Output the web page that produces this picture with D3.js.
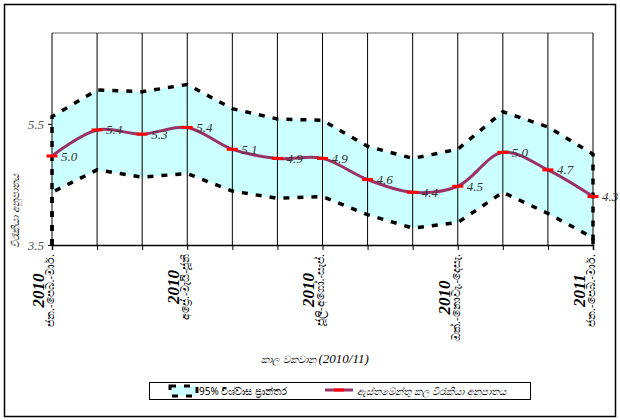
<!DOCTYPE html>
<html>
<head>
<meta charset="utf-8">
<script src="https://cdn.jsdelivr.net/npm/d3@7"></script>
<style>
  body { margin: 0; background: #fff; }
  .serif { font-family: "Liberation Serif", "DejaVu Serif", serif; }
  .sans { font-family: "Noto Sans", "DejaVu Sans", sans-serif; }
</style>
</head>
<body>
<div id="chart"></div>
<script>
// Three-month periods (2010/11)
const periods = [
  "ජන.-පෙබ.-මාර්.", "පෙබ.-මාර්.-අප්‍රේ.", "මාර්.-අප්‍රේ.-මැයි", "අප්‍රේ.-මැයි-ජූනි",
  "මැයි-ජූනි-ජූලි", "ජූනි-ජූලි-අගෝ.", "ජූලි-අගෝ.-සැප්.", "අගෝ.-සැප්.-ඔක්.",
  "සැප්.-ඔක්.-නොවැ.", "ඔක්.-නොවැ.-දෙසැ.", "නොවැ.-දෙසැ.-ජන.", "දෙසැ.-ජන.-පෙබ.",
  "ජන.-පෙබ.-මාර්."
];
const years = ["2010", "2010", "2010", "2010", "2010", "2010", "2010",
  "2010", "2010", "2010", "2010", "2011", "2011"];

// Estimated unemployment rate and 95% confidence bounds
const rate = [4.97, 5.40, 5.33, 5.44, 5.08, 4.93, 4.93, 4.58, 4.37, 4.47, 5.03, 4.74, 4.30];
const upper = [5.62, 6.06, 6.03, 6.15, 5.75, 5.58, 5.56, 5.13, 4.93, 5.08, 5.70, 5.45, 5.00];
const lower = [4.37, 4.74, 4.62, 4.68, 4.39, 4.27, 4.30, 4.00, 3.78, 3.87, 4.37, 4.02, 3.62];

const labelledTicks = [0, 3, 6, 9, 12];
const yTicks = [3.5, 5.5];

const yTitle = "විරැකියා අනුපාතය";
const xTitle = "කාල වකවානු";
const xTitleYears = "(2010/11)";
const bandName = "95% විශ්වාස ප්‍රාන්තර";
const lineName = "ඇස්තමේන්තු කල විරැකියා අනුපාතය";

const W = 620, H = 420;
const plot = { left: 52, right: 593, top: 33, bottom: 245 };

const svg = d3.select("#chart").append("svg")
  .attr("width", W)
  .attr("height", H);

// Outer frame
svg.append("rect")
  .attr("x", 4.5).attr("y", 4.5)
  .attr("width", W - 9).attr("height", H - 8)
  .attr("fill", "#fff")
  .attr("stroke", "#000")
  .attr("stroke-width", 1.5);

const idx = d3.range(rate.length);

const x = d3.scalePoint()
  .domain(idx)
  .range([plot.left, plot.right]);

const y = d3.scaleLinear()
  .domain([3.5, 7.0])
  .range([plot.bottom, plot.top]);

// Top border of plot area
svg.append("line")
  .attr("x1", plot.left).attr("x2", plot.right)
  .attr("y1", plot.top).attr("y2", plot.top)
  .attr("stroke", "#999")
  .attr("stroke-width", 1.5);

// Confidence band: upper area (cyan) then lower area (white), both with dashed borders
const area = vals => d3.area()
  .x(i => x(i))
  .y0(y(3.5))
  .y1(i => y(vals[i]));

const dash = { width: 3.5, array: "6,8" };

svg.append("path")
  .datum(idx)
  .attr("d", area(upper))
  .attr("fill", "#ccffff");

svg.append("path")
  .datum(idx)
  .attr("d", area(lower))
  .attr("fill", "#ffffff");

// Vertical gridlines
svg.append("g")
  .selectAll("line")
  .data(idx)
  .join("line")
  .attr("x1", i => x(i)).attr("x2", i => x(i))
  .attr("y1", plot.top).attr("y2", plot.bottom)
  .attr("stroke", "#000")
  .attr("stroke-width", 1);

// Dashed outlines of the band (including vertical edges)
[upper, lower].forEach(vals => {
  const pts = [[x(0), y(3.5)]]
    .concat(idx.map(i => [x(i), y(vals[i])]))
    .concat([[x(idx.length - 1), y(3.5)]]);
  svg.append("path")
    .attr("d", d3.line()(pts))
    .attr("fill", "none")
    .attr("stroke", "#000")
    .attr("stroke-width", dash.width)
    .attr("stroke-dasharray", dash.array);
});

// Axes
const xAxis = svg.append("g")
  .attr("transform", `translate(0,${plot.bottom})`)
  .call(d3.axisBottom(x).tickSize(5).tickFormat(""));
xAxis.select(".domain").attr("stroke", "#000").attr("stroke-width", 1.5);
xAxis.selectAll(".tick line").attr("stroke", "#000");

const yAxis = svg.append("g")
  .attr("transform", `translate(${plot.left},0)`)
  .call(d3.axisLeft(y).tickValues(yTicks).tickSize(4).tickFormat(d3.format(".1f")));
yAxis.select(".domain").remove();
yAxis.selectAll(".tick line").attr("stroke", "#000");
yAxis.selectAll(".tick text")
  .attr("class", "serif")
  .attr("font-size", 13)
  .attr("font-style", "italic")
  .attr("fill", "#555")
  .attr("x", -8);

// Estimated rate line
svg.append("path")
  .datum(idx)
  .attr("d", d3.line()
    .x(i => x(i))
    .y(i => y(rate[i]))
    .curve(d3.curveCatmullRom.alpha(0.5)))
  .attr("fill", "none")
  .attr("stroke", "#993366")
  .attr("stroke-width", 3);

// Dash markers
svg.append("g")
  .selectAll("line")
  .data(idx)
  .join("line")
  .attr("x1", i => x(i) - 5.5).attr("x2", i => x(i) + 5.5)
  .attr("y1", i => y(rate[i])).attr("y2", i => y(rate[i]))
  .attr("stroke", "#ff0000")
  .attr("stroke-width", 3);

// Data labels
svg.append("g")
  .selectAll("text")
  .data(idx)
  .join("text")
  .attr("class", "serif")
  .attr("x", i => x(i) + 9)
  .attr("y", i => y(rate[i]))
  .attr("dy", "0.35em")
  .attr("font-size", 13)
  .attr("font-style", "italic")
  .attr("fill", "#333")
  .text(i => rate[i].toFixed(1));

// Rotated category labels (year + months)
labelledTicks.forEach(i => {
  const g = svg.append("g")
    .attr("transform", `translate(${x(i)},254) rotate(-90)`);
  const m = g.append("text")
    .attr("class", "sans")
    .attr("x", 0)
    .attr("y", -2)
    .attr("dy", "0.35em")
    .attr("text-anchor", "end")
    .attr("font-size", 11)
    .attr("fill", "#000")
    .text(periods[i]);
  const w = m.node().getComputedTextLength();
  g.append("text")
    .attr("class", "serif")
    .attr("x", -w / 2)
    .attr("y", -14)
    .attr("dy", "0.35em")
    .attr("text-anchor", "middle")
    .attr("font-size", 17)
    .attr("font-weight", "bold")
    .attr("font-style", "italic")
    .attr("fill", "#000")
    .text(years[i]);
});

// Axis titles
const xt = svg.append("text")
  .attr("x", 315)
  .attr("y", 357)
  .attr("dy", "0.35em")
  .attr("text-anchor", "middle")
  .attr("font-style", "italic");
xt.append("tspan").attr("class", "sans").attr("font-size", 10).text(xTitle + " ");
xt.append("tspan").attr("class", "serif").attr("font-size", 13).text(xTitleYears);

svg.append("text")
  .attr("class", "sans")
  .attr("transform", "translate(15,211) rotate(-90)")
  .attr("dy", "0.35em")
  .attr("text-anchor", "middle")
  .attr("font-size", 10)
  .attr("font-style", "italic")
  .text(yTitle);

// Legend
const legend = svg.append("g");
legend.append("rect")
  .attr("x", 149.5).attr("y", 382.5)
  .attr("width", 381).attr("height", 17)
  .attr("fill", "#fff")
  .attr("stroke", "#000")
  .attr("stroke-width", 1);

legend.append("rect")
  .attr("x", 170).attr("y", 386)
  .attr("width", 27).attr("height", 10)
  .attr("fill", "#ccffff")
  .attr("stroke", "#000")
  .attr("stroke-width", 3)
  .attr("stroke-dasharray", "6,8");

legend.append("text")
  .attr("class", "sans")
  .attr("x", 199).attr("y", 391)
  .attr("dy", "0.35em")
  .attr("font-size", 10)
  .text(bandName);

legend.append("line")
  .attr("x1", 325).attr("x2", 353)
  .attr("y1", 390).attr("y2", 390)
  .attr("stroke", "#993366")
  .attr("stroke-width", 3);
legend.append("line")
  .attr("x1", 334).attr("x2", 344)
  .attr("y1", 390).attr("y2", 390)
  .attr("stroke", "#ff0000")
  .attr("stroke-width", 3);

legend.append("text")
  .attr("class", "sans")
  .attr("x", 357).attr("y", 391)
  .attr("dy", "0.35em")
  .attr("font-size", 10)
  .attr("font-style", "italic")
  .text(lineName);
</script>
</body>
</html>
